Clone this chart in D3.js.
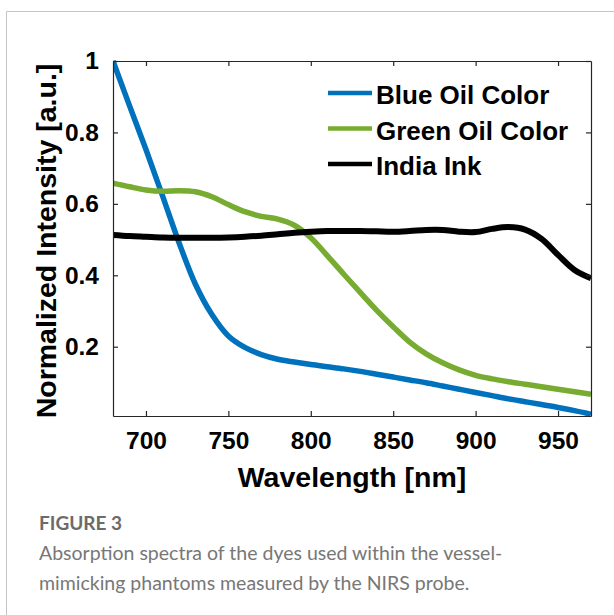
<!DOCTYPE html>
<html>
<head>
<meta charset="utf-8">
<script src="https://cdn.jsdelivr.net/npm/d3@7"></script>
<style>
	body { margin: 0; background: #fff; }
	svg { display: block; }
</style>
</head>
<body>
<svg width="614" height="615"></svg>
<script>
(function() {
	"use strict"

	var wavelengths = [680, 690, 700, 710, 720, 730, 740, 750, 760, 770, 780, 790, 800, 810, 820, 830, 840, 850, 860, 870, 880, 890, 900, 910, 920, 930, 940, 950, 960, 970],
		blueOil = [1.0, 0.875, 0.752, 0.623, 0.492, 0.375, 0.29, 0.23, 0.198, 0.178, 0.165, 0.157, 0.15, 0.144, 0.138, 0.131, 0.123, 0.115, 0.107, 0.099, 0.09, 0.081, 0.072, 0.063, 0.054, 0.046, 0.038, 0.03, 0.021, 0.011],
		greenOil = [0.658, 0.648, 0.639, 0.635, 0.637, 0.634, 0.62, 0.598, 0.578, 0.565, 0.557, 0.54, 0.505, 0.455, 0.403, 0.352, 0.302, 0.256, 0.213, 0.18, 0.155, 0.135, 0.12, 0.11, 0.102, 0.095, 0.088, 0.081, 0.074, 0.067],
		indiaInk = [0.513, 0.51, 0.508, 0.506, 0.505, 0.505, 0.505, 0.506, 0.508, 0.511, 0.515, 0.519, 0.522, 0.524, 0.524, 0.524, 0.523, 0.522, 0.524, 0.527, 0.527, 0.522, 0.521, 0.53, 0.535, 0.528, 0.502, 0.457, 0.415, 0.392],
		seriesNames = ["Blue Oil Color", "Green Oil Color", "India Ink"],
		seriesColors = ["#0072bd", "#77ac30", "#000000"],
		xTicks = [700, 750, 800, 850, 900, 950],
		yTicks = [0.2, 0.4, 0.6, 0.8, 1],
		captionTitle = "FIGURE 3",
		captionLines = ["Absorption spectra of the dyes used within the vessel-", "mimicking phantoms measured by the NIRS probe."];

	var svg = d3.select("svg"),
		left = 113, right = 591, top = 61, bottom = 416,
		chartFont = "'Liberation Sans', Arial, sans-serif",
		captionFont = "Lato, 'Open Sans', sans-serif",
		axisColor = "#262626";

	var x = d3.scaleLinear().domain([680, 970]).range([left, right]),
		y = d3.scaleLinear().domain([0.006, 1]).range([bottom, top]);

	// page frame
	svg.append("path")
		.attr("d", "M6.5,615V11.5H614")
		.attr("fill", "none")
		.attr("stroke", "#c4c4c4")
		.attr("stroke-width", 1);

	var series = [blueOil, greenOil, indiaInk].map(function(vals, i) {
		return {
			name : seriesNames[i],
			color : seriesColors[i],
			points : wavelengths.map(function(w, j) { return [w, vals[j]]; })
		};
	});

	var line = d3.line()
		.x(function(d) { return x(d[0]); })
		.y(function(d) { return y(d[1]); })
		.curve(d3.curveCatmullRom.alpha(0.5));

	svg.append("clipPath").attr("id", "plotclip")
		.append("rect")
			.attr("x", left)
			.attr("y", top - 3)
			.attr("width", right - left)
			.attr("height", bottom - top + 3);

	svg.append("g")
		.attr("clip-path", "url(#plotclip)")
		.selectAll("path")
		.data(series)
		.enter()
		.append("path")
			.attr("d", function(d) { return line(d.points); })
			.attr("fill", "none")
			.attr("stroke", function(d) { return d.color; })
			.attr("stroke-width", function(d) { return d.name === "India Ink" ? 6 : 5.5; })
			.attr("stroke-linejoin", "round");

	// box with inward ticks on every side
	function styleAxis(g) {
		g.select(".domain").attr("stroke", axisColor).attr("stroke-width", 1.2);
		g.selectAll(".tick line").attr("stroke", axisColor).attr("stroke-width", 1.2);
		g.selectAll("text")
			.attr("fill", "#000")
			.style("font-family", chartFont)
			.style("font-weight", "bold")
			.style("font-size", "24.5px");
	}

	svg.append("g")
		.attr("transform", "translate(0," + bottom + ")")
		.call(d3.axisBottom(x).tickValues(xTicks).tickSizeInner(-5).tickSizeOuter(0).tickPadding(16).tickFormat(d3.format("d")))
		.call(styleAxis);

	svg.append("g")
		.attr("transform", "translate(0," + top + ")")
		.call(d3.axisTop(x).tickValues(xTicks).tickSizeInner(-5).tickSizeOuter(0).tickFormat(""))
		.call(styleAxis);

	svg.append("g")
		.attr("transform", "translate(" + left + ",0)")
		.call(d3.axisLeft(y).tickValues(yTicks).tickSizeInner(-5).tickSizeOuter(0).tickPadding(14)
			.tickFormat(function(d) { return d === 1 ? "1" : d.toFixed(1); }))
		.call(styleAxis);

	svg.append("g")
		.attr("transform", "translate(" + right + ",0)")
		.call(d3.axisRight(y).tickValues(yTicks).tickSizeInner(-5).tickSizeOuter(0).tickFormat(""))
		.call(styleAxis);

	// axis titles
	svg.append("text")
		.attr("x", (left + right) / 2)
		.attr("y", 487)
		.attr("text-anchor", "middle")
		.style("font-family", chartFont)
		.style("font-weight", "bold")
		.style("font-size", "28.5px")
		.text("Wavelength [nm]");

	svg.append("text")
		.attr("transform", "translate(56,241) rotate(-90)")
		.attr("text-anchor", "middle")
		.style("font-family", chartFont)
		.style("font-weight", "bold")
		.style("font-size", "28.5px")
		.text("Normalized Intensity [a.u.]");

	// legend
	var legend = svg.append("g")
		.selectAll("g")
		.data(series)
		.enter()
		.append("g")
			.attr("transform", function(d, i) { return "translate(328," + (93 + i * 35.5) + ")"; });

	legend.append("line")
		.attr("x1", 0)
		.attr("x2", 44)
		.attr("stroke", function(d) { return d.color; })
		.attr("stroke-width", 4.5);

	legend.append("text")
		.attr("x", 48)
		.attr("y", 11)
		.style("font-family", chartFont)
		.style("font-weight", "bold")
		.style("font-size", "26px")
		.text(function(d) { return d.name; });

	// caption
	svg.append("text")
		.attr("x", 39)
		.attr("y", 530)
		.attr("fill", "#6b6b6b")
		.style("font-family", captionFont)
		.style("font-weight", "bold")
		.style("font-size", "19px")
		.text(captionTitle);

	svg.append("g")
		.selectAll("text")
		.data(captionLines)
		.enter()
		.append("text")
			.attr("x", 39)
			.attr("y", function(d, i) { return 560 + i * 30; })
			.attr("fill", "#777")
			.style("font-family", captionFont)
			.style("font-size", "19.5px")
			.text(function(d) { return d; });
})();
</script>
</body>
</html>
